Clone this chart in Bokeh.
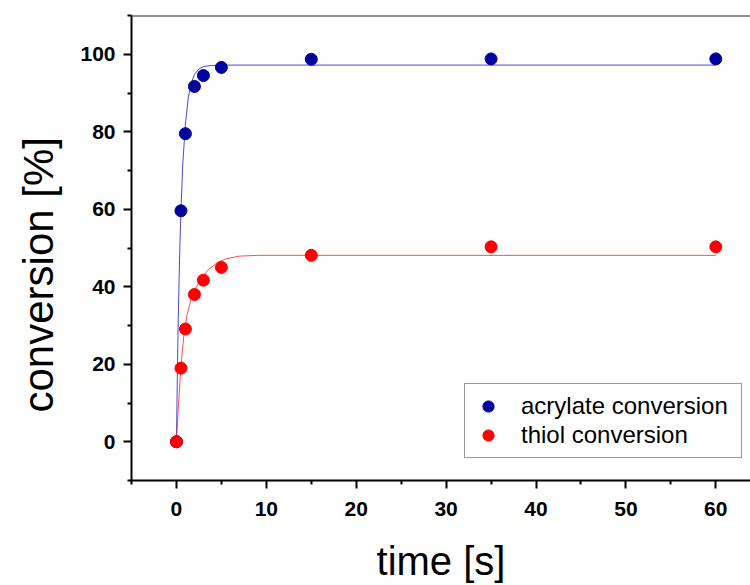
import math
from bokeh.plotting import figure
from bokeh.models import (Range1d, FixedTicker, LinearAxis, Title, Legend, LegendItem, Span)
from bokeh.embed import file_html
from bokeh.resources import INLINE

# measured data
time_s = [0, 0.5, 1, 2, 3, 5, 15, 35, 60]
acrylate = [0, 59.6, 79.5, 91.7, 94.5, 96.6, 98.7, 98.8, 98.8]
thiol = [0, 19.0, 29.1, 38.0, 41.7, 45.0, 48.1, 50.3, 50.3]

# fitted curves
fit_t_acr = [0, 0.1, 0.2, 0.3, 0.4, 0.5, 0.7, 1.0, 1.3, 1.6, 2.0, 2.5, 3.0, 3.5, 4.0, 5.0, 6.0, 60]
fit_acr = [0, 17, 31.5, 42.5, 52, 59.5, 71.5, 82, 88.5, 92.2, 94.8, 96.2, 96.8, 97.0, 97.1, 97.2, 97.2, 97.2]
fit_t_thiol = [0, 0.2, 0.4, 0.6, 0.85, 1.2, 1.6, 2.1, 2.9, 3.5, 4.5, 5.5, 7, 9, 60]
fit_thiol = [0, 8.5, 16, 22, 28, 33, 36.5, 39.5, 42.5, 44.3, 46.2, 47.2, 47.9, 48.1, 48.1]

x_major = [0, 10, 20, 30, 40, 50, 60]
x_minor = [-5, 5, 15, 25, 35, 45, 55, 65]
y_major = [0, 20, 40, 60, 80, 100]
y_minor = [-10, 10, 30, 50, 70, 90, 110]

BLUE = "#00009C"
RED = "#FF0000"

p = figure(width=750, height=585, output_backend="svg", toolbar_location=None,
           x_range=Range1d(-5, 63.86), y_range=Range1d(-10, 110),
           min_border_left=131, min_border_right=0, min_border_top=15, min_border_bottom=104,
           x_axis_location=None, y_axis_location=None)
p.outline_line_color = None
p.grid.visible = False
p.background_fill_color = "white"
p.border_fill_color = "white"

# axes
xax = LinearAxis(ticker=FixedTicker(ticks=x_major, minor_ticks=x_minor))
yax = LinearAxis(ticker=FixedTicker(ticks=y_major, minor_ticks=y_minor))
for ax in (xax, yax):
    ax.axis_line_width = 2
    ax.axis_line_color = "black"
    ax.major_tick_line_width = 2
    ax.minor_tick_line_width = 2
    ax.major_tick_out = 8
    ax.major_tick_in = 0
    ax.minor_tick_out = 4
    ax.minor_tick_in = 0
    ax.major_label_text_font = "Liberation Sans"
    ax.major_label_text_font_style = "bold"
    ax.major_label_text_font_size = "21px"
    ax.major_label_text_color = "black"
xax.major_label_standoff = 13
yax.major_label_standoff = 8
xax.axis_label = "time [s]"
xax.axis_label_text_font = "Liberation Sans"
xax.axis_label_text_font_style = "normal"
xax.axis_label_text_font_size = "40px"
xax.axis_label_text_color = "black"
xax.axis_label_standoff = 20
p.add_layout(xax, "below")
p.add_layout(yax, "left")

# y label as a side title (so it can sit slightly below the frame centre like the original)
ytitle = Title(text="conversion [%]", align="left", offset=68, vertical_align="top",
               text_font="Liberation Sans", text_font_size="42px",
               text_font_style="normal", text_color="black", standoff=28)
p.add_layout(ytitle, "left")

# top frame line
p.add_layout(Span(location=110, dimension="width", line_color="#222222", line_width=2))

# fit curves
p.line(fit_t_acr, fit_acr, line_color="#2a2ac8", line_width=1, line_alpha=0.85)
p.line(fit_t_thiol, fit_thiol, line_color="#ff3030", line_width=1, line_alpha=0.85)

# data points
r1 = p.scatter(time_s, acrylate, size=12, fill_color=BLUE, line_color=BLUE)
r2 = p.scatter(time_s, thiol, size=12, fill_color=RED, line_color=RED)

legend = Legend(items=[LegendItem(label="acrylate conversion", renderers=[r1]),
                       LegendItem(label="thiol conversion", renderers=[r2])],
                location=(333, 22))
legend.border_line_color = "#333333"
legend.border_line_width = 1
legend.background_fill_color = "white"
legend.padding = 8
legend.spacing = 1
legend.margin = 0
legend.glyph_width = 30
legend.glyph_height = 28
legend.label_height = 28
legend.label_width = 212
legend.label_standoff = 18
legend.label_text_font = "Liberation Sans"
legend.label_text_font_size = "24px"
legend.label_text_color = "black"
p.add_layout(legend, "center")

open("out.html", "w").write(file_html(p, INLINE))
